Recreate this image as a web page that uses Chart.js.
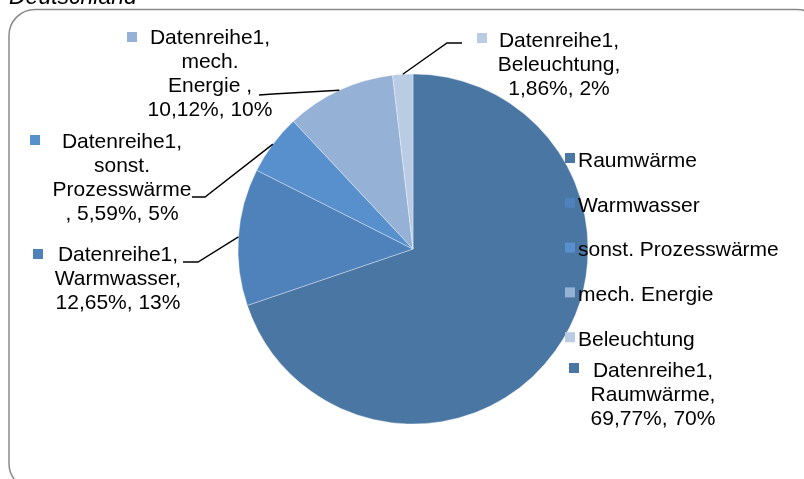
<!DOCTYPE html>
<html>
<head>
<meta charset="utf-8">
<script src="https://cdn.jsdelivr.net/npm/chart.js@4/dist/chart.umd.min.js"></script>
<style>
  body { margin: 0; background: #fff; }
  #wrap { width: 804px; height: 479px; position: relative; }
</style>
</head>
<body>
<div id="wrap"><canvas id="energyChart"></canvas></div>
<script>
// data
var title = 'Deutschland';
var seriesName = 'Datenreihe1';
var categories = ['Raumwärme', 'Warmwasser', 'sonst. Prozesswärme ', 'mech. Energie ', 'Beleuchtung'];
var shares = [69.77, 12.65, 5.59, 10.12, 1.86];
var shareRounded = ['70%', '13%', '5%', '10%', '2%'];
var colors = ['#4a76a3', '#4f82bb', '#5790cd', '#95b1d6', '#b9cce4'];

// label layout (centre x, first line y, legend square, leader elbow/end)
var labelLayout = [
    { cx: 653, cy: 371, sq: [569, 363] },
    { cx: 118, cy: 255, sq: [33, 249], elbow: [198, 262], end: [183, 262] },
    { cx: 122, cy: 142, sq: [30, 135], elbow: [205, 197], end: [192, 197] },
    { cx: 210, cy: 38, sq: [127, 32], elbow: [273, 94], end: [259, 95] },
    { cx: 559, cy: 41, sq: [477, 33], elbow: [447, 43], end: [462, 43] },
];

var FONT = '21px "Liberation Sans", Arial, sans-serif';

function wrapText(ctx, text, maxWidth) {
    var words = text.split(' ');
    var lines = [];
    var cur = '';
    words.forEach(function (w) {
        if (w === '') return;
        var test = cur ? cur + ' ' + w : w;
        if (cur && ctx.measureText(test).width > maxWidth) {
            lines.push(cur);
            cur = w;
        } else {
            cur = test;
        }
    });
    if (cur) lines.push(cur);
    return lines;
}

var decorations = {
    id: 'decorations',
    beforeDraw: function (chart) {
        var ctx = chart.ctx;
        ctx.save();
        // frame
        ctx.strokeStyle = '#8a8a8a';
        ctx.lineWidth = 1.5;
        ctx.beginPath();
        ctx.roundRect(9, 9.5, 814, 480, 26);
        ctx.stroke();
        // title (cut off at top)
        ctx.fillStyle = '#000';
        ctx.font = 'italic 23px "Liberation Sans", Arial, sans-serif';
        ctx.textBaseline = 'alphabetic';
        ctx.fillText(title, 9, 4);
        ctx.restore();
    },
    afterDraw: function (chart) {
        var ctx = chart.ctx;
        var meta = chart.getDatasetMeta(0);
        ctx.save();

        // leader lines
        ctx.strokeStyle = '#000';
        ctx.lineWidth = 1.4;
        meta.data.forEach(function (arc, i) {
            var lay = labelLayout[i];
            if (!lay.elbow) return;
            var p = arc.getProps(['x', 'y', 'startAngle', 'endAngle', 'outerRadius'], true);
            var mid = (p.startAngle + p.endAngle) / 2;
            var sx = p.x + Math.cos(mid) * p.outerRadius;
            var sy = p.y + Math.sin(mid) * p.outerRadius;
            ctx.beginPath();
            ctx.moveTo(sx, sy);
            ctx.lineTo(lay.elbow[0], lay.elbow[1]);
            ctx.lineTo(lay.end[0], lay.end[1]);
            ctx.stroke();
        });

        // data labels
        ctx.font = FONT;
        ctx.textAlign = 'center';
        ctx.textBaseline = 'middle';
        categories.forEach(function (cat, i) {
            var lay = labelLayout[i];
            var text = seriesName + ', ' + cat + ', ' +
                shares[i].toFixed(2).replace('.', ',') + '%, ' + shareRounded[i];
            var lines = wrapText(ctx, text, 130);
            ctx.fillStyle = colors[i];
            ctx.fillRect(lay.sq[0], lay.sq[1], 10, 10);
            ctx.fillStyle = '#000';
            lines.forEach(function (ln, j) {
                ctx.fillText(ln, lay.cx, lay.cy + j * 24);
            });
        });

        // legend
        ctx.textAlign = 'left';
        categories.forEach(function (cat, i) {
            var y = 161 + i * 44.8;
            ctx.fillStyle = colors[i];
            ctx.fillRect(565, y - 8, 10, 10);
            ctx.fillStyle = '#000';
            ctx.fillText(cat.trim(), 578, y);
        });

        ctx.restore();
    }
};

var ctx = document.getElementById('energyChart').getContext('2d');
var energyChart = new Chart(ctx, {
    type: 'pie',
    data: {
        labels: categories,
        datasets: [{
            label: seriesName,
            data: shares,
            backgroundColor: colors,
            borderColor: 'rgba(255,255,255,0.35)',
            borderWidth: 1,
            radius: 175,
        }],
    },
    options: {
        responsive: true,
        maintainAspectRatio: false,
        animation: false,
        events: [],
        layout: {
            padding: { left: 238, right: 216, top: 74, bottom: 55 }
        },
        plugins: {
            legend: { display: false },
            tooltip: { enabled: false },
            title: { display: false },
        }
    },
    plugins: [decorations]
});
</script>
</body>
</html>
